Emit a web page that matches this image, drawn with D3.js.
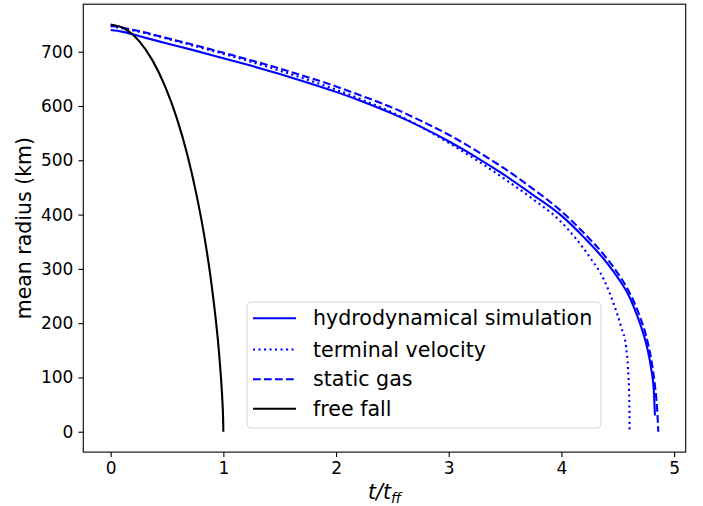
<!DOCTYPE html>
<html><head><meta charset="utf-8">
<script src="https://cdn.jsdelivr.net/npm/d3@7"></script>
<style>body{margin:0;background:#fff}svg{display:block;font-family:"DejaVu Sans",sans-serif}</style>
</head><body><svg id="c" width="703" height="506"></svg>
<script>
// hydrodynamical simulation
const hydroT = [0, 0.1, 0.25, 0.5, 0.75, 1.0, 1.25, 1.5, 1.75, 2.0, 2.25, 2.5, 2.75, 3.0, 3.25, 3.5, 3.75, 4.0, 4.2, 4.4, 4.5, 4.6, 4.65, 4.7, 4.76, 4.8, 4.82, 4.83];
const hydroR = [740, 737, 729, 715, 702, 688, 674, 659, 643, 626, 607, 586, 562, 535, 505, 472, 436, 398, 358, 312, 284, 250, 226, 198, 156, 112, 76, 30];
// terminal velocity
const termT = [0, 0.25, 0.5, 0.75, 1.0, 1.25, 1.5, 1.75, 2.0, 2.25, 2.5, 2.75, 3.0, 3.25, 3.5, 3.75, 3.98, 4.12, 4.25, 4.38, 4.47, 4.53, 4.575, 4.59, 4.6, 4.604, 4.605];
const termR = [747, 737, 724, 710, 696, 681, 665, 648, 630, 610, 588, 562, 532, 500, 465, 428, 390, 358, 322, 279, 232, 193, 155, 120, 75, 30, 0];
// static gas
const staticT = [0, 0.25, 0.5, 0.75, 1.0, 1.25, 1.5, 1.75, 2.0, 2.25, 2.5, 2.75, 3.0, 3.25, 3.5, 3.75, 4.0, 4.2, 4.4, 4.5, 4.6, 4.7, 4.76, 4.8, 4.83, 4.85, 4.86];
const staticR = [748, 738, 725, 712, 698, 684, 669, 653, 636, 617, 597, 573, 547, 517, 484, 447, 406, 366, 320, 292, 258, 210, 170, 130, 85, 40, 0];
// free fall
const freeT = [0, 0.127, 0.251, 0.371, 0.483, 0.586, 0.679, 0.759, 0.828, 0.883, 0.926, 0.958, 0.979, 0.992, 0.998, 0.9998, 1.0];
const freeR = [750, 742, 720, 684, 636, 578, 511, 439, 364, 290, 219, 154, 98, 54, 22, 3, 0];

const xTicks = [0, 1, 2, 3, 4, 5];
const yTicks = [0, 100, 200, 300, 400, 500, 600, 700];
const labels = ["hydrodynamical simulation", "terminal velocity", "static gas", "free fall"];

const svg = d3.select("#c");
const L = 83.3, R = 685.7, T = 4.2, B = 452.1;
const x = d3.scaleLinear().domain([-0.243, 5.103]).range([L, R]);
const y = d3.scaleLinear().domain([-37.5, 787.5]).range([B, T]);

const series = [
  {t: hydroT, r: hydroR, color: "#0000ff", dash: null},
  {t: termT, r: termR, color: "#0000ff", dash: "2.1,3.4"},
  {t: staticT, r: staticR, color: "#0000ff", dash: "7.7,3.3"},
  {t: freeT, r: freeR, color: "#000000", dash: null}
];
const line = d3.line().x(d => x(d[0])).y(d => y(d[1])).curve(d3.curveMonotoneX);

series.forEach(s => {
  const pts = s.t.map((t, i) => [t, s.r[i]]);
  svg.append("path").attr("d", line(pts)).attr("fill", "none")
    .attr("stroke", s.color).attr("stroke-width", 2.1)
    .attr("stroke-dasharray", s.dash);
});

// axes
const xa = svg.append("g").attr("transform", `translate(0,${B})`)
  .call(d3.axisBottom(x).tickValues(xTicks).tickSize(4.9).tickPadding(5).tickFormat(d3.format("d")));
const ya = svg.append("g").attr("transform", `translate(${L},0)`)
  .call(d3.axisLeft(y).tickValues(yTicks).tickSize(4.9).tickPadding(5).tickFormat(d3.format("d")));
[xa, ya].forEach(g => {
  g.select(".domain").remove();
  g.selectAll("line").attr("stroke", "#000").attr("stroke-width", 1.1);
  g.selectAll("text").attr("font-size", 17).attr("font-family", "DejaVu Sans").attr("fill", "#000");
});
svg.append("rect").attr("x", L).attr("y", T).attr("width", R - L).attr("height", B - T)
  .attr("fill", "none").attr("stroke", "#000").attr("stroke-width", 1.1);

// axis labels
svg.append("text").attr("transform", `translate(31,${(T + B) / 2}) rotate(-90)`)
  .attr("text-anchor", "middle").attr("font-size", 20.5).text("mean radius (km)");
const xl = svg.append("text").attr("x", (L + R) / 2).attr("y", 499)
  .attr("text-anchor", "middle").attr("font-size", 20.5).attr("font-style", "italic");
xl.append("tspan").text("t/t");
xl.append("tspan").attr("font-size", 14).attr("dy", 4).text("ff");

// legend
const lg = svg.append("g");
lg.append("rect").attr("x", 247).attr("y", 302).attr("width", 354).attr("height", 126)
  .attr("rx", 4).attr("fill", "#fff").attr("fill-opacity", 0.8).attr("stroke", "#d6d6d6").attr("stroke-width", 1);
const rowsY = [318.3, 349.5, 379.3, 408.8];
labels.forEach((lab, i) => {
  const s = series[i];
  lg.append("line").attr("x1", 253).attr("x2", 296).attr("y1", rowsY[i]).attr("y2", rowsY[i])
    .attr("stroke", s.color).attr("stroke-width", 2.1).attr("stroke-dasharray", s.dash);
  lg.append("text").attr("x", 313).attr("y", rowsY[i] + 7).attr("font-size", 20.6).text(lab);
});
</script></body></html>
